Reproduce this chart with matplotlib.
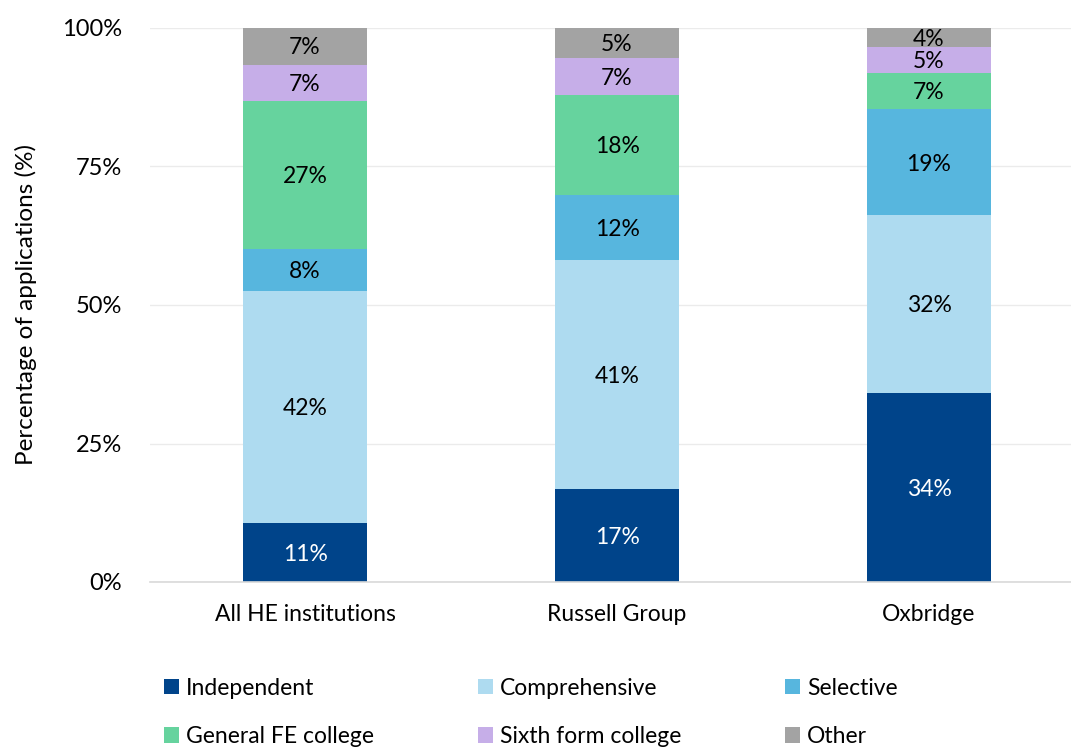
import matplotlib
matplotlib.use("Agg")
import matplotlib.pyplot as plt
import numpy as np

categories = ["All HE institutions", "Russell Group", "Oxbridge"]
series = ["Independent", "Comprehensive", "Selective", "General FE college", "Sixth form college", "Other"]
independent = [10.6, 16.7, 34.1]
comprehensive = [41.9, 41.4, 32.1]
selective = [7.6, 11.8, 19.1]
general_fe = [26.7, 18.0, 6.6]
sixth_form = [6.6, 6.7, 4.6]
other = [6.6, 5.4, 3.5]
values = [independent, comprehensive, selective, general_fe, sixth_form, other]
colors = ["#00448A", "#AEDBF0", "#57B6DE", "#66D39E", "#C6AEE8", "#A3A3A3"]
label_colors = ["white", "black", "black", "black", "black", "black"]
yticks = [0, 25, 50, 75, 100]
ytick_labels = ["0%", "25%", "50%", "75%", "100%"]

plt.rcParams['font.family'] = ['Lato', 'DejaVu Sans']

fig = plt.figure(figsize=(10.71, 7.51), dpi=100)
ax = fig.add_axes([150/1071, 1-582/751, (1071-150)/1071, (582-28)/751])

x = np.arange(len(categories))
bottom = np.zeros(len(categories))
handles = []
for s, vals, c, lc in zip(series, values, colors, label_colors):
    vals = np.array(vals)
    b = ax.bar(x, vals, width=0.4, bottom=bottom, color=c, label=s, zorder=3)
    handles.append(b)
    for xi, v, bt in zip(x, vals, bottom):
        ax.text(xi, bt + v/2 - 0.3, f"{round(v):d}%", ha="center", va="center",
                color=lc, fontsize=16.5, zorder=4)
    bottom += vals

ax.set_xlim(-0.497, 2.455)
ax.set_ylim(0, 100)
ax.set_yticks(yticks)
ax.set_yticklabels(ytick_labels, fontsize=17)
ax.set_xticks(x)
ax.set_xticklabels(categories, fontsize=16.5)
ax.tick_params(axis='y', length=0, pad=20)
ax.tick_params(axis='x', length=0, pad=16)
ax.grid(axis='y', color='#ebebeb', linewidth=1, zorder=0)
for sp in ["top", "right", "left"]:
    ax.spines[sp].set_visible(False)
ax.spines["bottom"].set_color("#d9d9d9")
ax.spines["bottom"].set_linewidth(1.2)
ax.spines["bottom"].set_zorder(5)
ax.set_ylabel("Percentage of applications (%)", fontsize=17.5, labelpad=18)

# row-major order in a 3-column legend
order = [0, 3, 1, 4, 2, 5]
leg = fig.legend(handles=[handles[i] for i in order], labels=[series[i] for i in order],
                 ncol=3, loc="upper left",
                 bbox_to_anchor=(155/1071, 1-676/751, 752/1071, 0.01), mode="expand",
                 frameon=False, fontsize=16.5, handlelength=0.65, handleheight=0.65,
                 handletextpad=0.3, labelspacing=1.2, borderaxespad=0)

fig.savefig("out.png", dpi=100)
